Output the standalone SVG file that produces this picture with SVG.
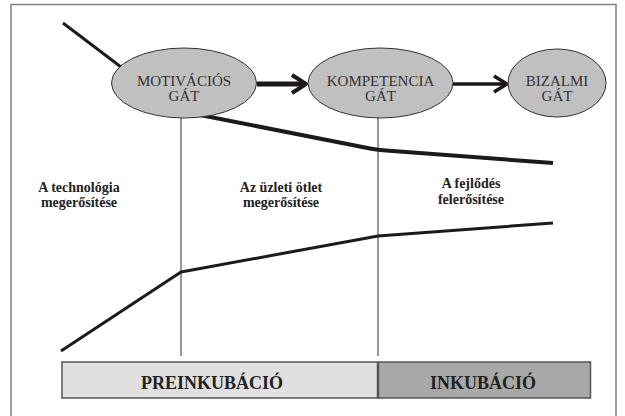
<svg xmlns="http://www.w3.org/2000/svg" width="625" height="416" viewBox="0 0 625 416">
  <style>
    .gate { fill: #c0c0c0; stroke: #333; stroke-width: 1; }
    .gate-text { font-family: "Liberation Serif", "Times New Roman", "DejaVu Serif", serif; font-size: 15px; fill: #333; text-anchor: middle; }
    .label { font-family: "Liberation Serif", "Times New Roman", "DejaVu Serif", serif; font-size: 14px; font-weight: bold; fill: #222; text-anchor: middle; }
    .phase-text { font-family: "Liberation Serif", "Times New Roman", "DejaVu Serif", serif; font-size: 18px; font-weight: bold; fill: #222; text-anchor: middle; }
    .trend { fill: none; stroke: #1c1a1a; stroke-linecap: butt; stroke-linejoin: round; }
    .divider { stroke: #333; stroke-width: 1; }
  </style>

  <!-- outer frame -->
  <rect x="11" y="4.5" width="605" height="420" fill="#fff" stroke="#808080" stroke-width="1.5"/>

  <!-- connectors: trend lines, phase dividers, gate arrows -->
  <g id="connectors">
    <line class="divider" x1="181" y1="116" x2="181" y2="356"/>
    <line class="divider" x1="378" y1="116" x2="378" y2="356"/>
    <line class="trend" x1="63" y1="23" x2="121" y2="67" stroke-width="3"/>
    <path class="trend" d="M200,115 L370,148.5 Q378,150 386,150.6 L553,163" stroke-width="4"/>
    <polyline class="trend" points="61,351 181,272 378,236 553,223" stroke-width="3"/>
    <g id="arrow-motivacio-kompetencia">
      <line class="trend" x1="257" y1="84" x2="304" y2="84" stroke-width="5"/>
      <polyline class="trend" points="292,75 306,84 292,93" stroke-width="4" stroke-linejoin="miter"/>
    </g>
    <g id="arrow-kompetencia-bizalmi">
      <line class="trend" x1="453" y1="84" x2="504" y2="84" stroke-width="3.5"/>
      <polyline class="trend" points="494,76 507,84 494,92" stroke-width="3.5" stroke-linejoin="miter"/>
    </g>
  </g>

  <!-- gates -->
  <g id="gate-motivacios">
    <ellipse class="gate" cx="184" cy="83" rx="72.5" ry="35"/>
    <text class="gate-text" x="184" y="86">MOTIVÁCIÓS</text>
    <text class="gate-text" x="184" y="101">GÁT</text>
  </g>
  <g id="gate-kompetencia">
    <ellipse class="gate" cx="380.5" cy="83" rx="72.5" ry="35"/>
    <text class="gate-text" x="380.5" y="86">KOMPETENCIA</text>
    <text class="gate-text" x="380.5" y="101">GÁT</text>
  </g>
  <g id="gate-bizalmi">
    <ellipse class="gate" cx="557" cy="83" rx="49" ry="34"/>
    <text class="gate-text" x="557" y="86">BIZALMI</text>
    <text class="gate-text" x="557" y="101">GÁT</text>
  </g>

  <!-- stage labels -->
  <g id="label-technologia">
    <text class="label" x="79" y="192">A technológia</text>
    <text class="label" x="79" y="207">megerősítése</text>
  </g>
  <g id="label-uzleti-otlet">
    <text class="label" x="281" y="192">Az üzleti ötlet</text>
    <text class="label" x="281" y="207">megerősítése</text>
  </g>
  <g id="label-fejlodes">
    <text class="label" x="471" y="188">A fejlődés</text>
    <text class="label" x="471" y="204">felerősítése</text>
  </g>

  <!-- phase bar -->
  <g id="phase-preinkubacio">
    <rect x="62" y="362" width="315.5" height="36" fill="#e0e0e0" stroke="#555" stroke-width="1.5"/>
    <text class="phase-text" x="212" y="389">PREINKUBÁCIÓ</text>
  </g>
  <g id="phase-inkubacio">
    <rect x="378.5" y="362" width="212" height="36" fill="#a8a8a8" stroke="#555" stroke-width="1.5"/>
    <text class="phase-text" x="483" y="389">INKUBÁCIÓ</text>
  </g>
</svg>
